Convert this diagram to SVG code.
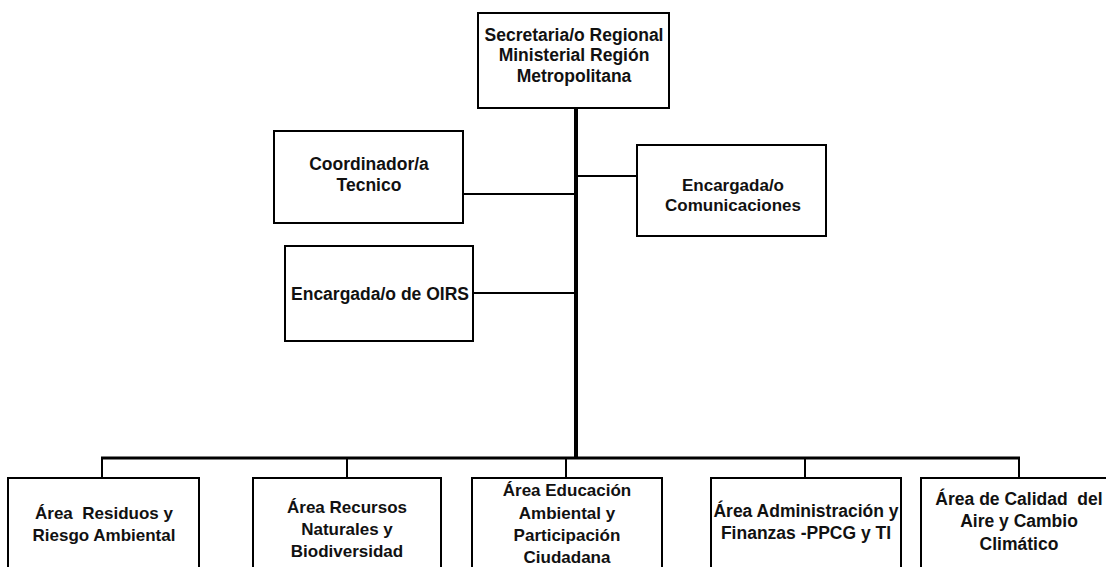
<svg xmlns="http://www.w3.org/2000/svg" width="1106" height="567" viewBox="0 0 1106 567">
<style>
.box{fill:#fff;stroke:#000;stroke-width:2}
.t{font-family:"Liberation Sans",Arial,sans-serif;font-weight:bold;font-size:17px;fill:#111;text-anchor:middle}
.l{font-size:17.5px}
.c{stroke:#000;stroke-width:2;fill:none}
.bus{stroke:#000;stroke-width:3;fill:none}
.trunk{stroke:#000;stroke-width:4;fill:none}
</style>
<rect width="1106" height="567" fill="#fff"/>
<g id="connectors">
<line class="trunk" x1="576" y1="108" x2="576" y2="459"/>
<line class="c" x1="463" y1="194" x2="576" y2="194"/>
<line class="c" x1="576" y1="176" x2="637" y2="176"/>
<line class="c" x1="473" y1="293" x2="576" y2="293"/>
<line class="bus" x1="101" y1="458" x2="1020" y2="458"/>
<line class="c" x1="102" y1="458" x2="102" y2="478"/>
<line class="c" x1="347" y1="458" x2="347" y2="478"/>
<line class="c" x1="566" y1="458" x2="566" y2="478"/>
<line class="c" x1="805" y1="458" x2="805" y2="478"/>
<line class="c" x1="1019" y1="458" x2="1019" y2="478"/>
</g>
<g id="secretaria">
<rect class="box" x="478" y="13" width="191" height="95"/>
<text class="t l" x="574" y="41">Secretaria/o Regional</text>
<text class="t l" x="574" y="61">Ministerial Región</text>
<text class="t l" x="574" y="82">Metropolitana</text>
</g>
<g id="coordinador">
<rect class="box" x="274" y="131" width="189" height="92"/>
<text class="t l" x="369" y="170">Coordinador/a</text>
<text class="t l" x="369" y="191">Tecnico</text>
</g>
<g id="comunicaciones">
<rect class="box" x="637" y="145" width="189" height="91"/>
<text class="t" x="733" y="191">Encargada/o</text>
<text class="t" x="733" y="211">Comunicaciones</text>
</g>
<g id="oirs">
<rect class="box" x="285" y="246" width="188" height="95"/>
<text class="t l" x="380" y="300">Encargada/o de OIRS</text>
</g>
<g id="residuos">
<rect class="box" x="8" y="478" width="191" height="100"/>
<text class="t" x="104" y="519" xml:space="preserve">Área  Residuos y</text>
<text class="t" x="104" y="541">Riesgo Ambiental</text>
</g>
<g id="recursos">
<rect class="box" x="253" y="478" width="188" height="100"/>
<text class="t" x="347" y="513">Área Recursos</text>
<text class="t" x="347" y="535">Naturales y</text>
<text class="t" x="347" y="557">Biodiversidad</text>
</g>
<g id="educacion">
<rect class="box" x="472" y="478" width="190" height="100"/>
<text class="t" x="567" y="496">Área Educación</text>
<text class="t" x="567" y="519">Ambiental y</text>
<text class="t" x="567" y="541">Participación</text>
<text class="t" x="567" y="563">Ciudadana</text>
</g>
<g id="administracion">
<rect class="box" x="711" y="478" width="190" height="100"/>
<text class="t l" x="806" y="517">Área Administración y</text>
<text class="t l" x="806" y="539">Finanzas -PPCG y TI</text>
</g>
<g id="calidad">
<rect class="box" x="921" y="478" width="196" height="100"/>
<text class="t l" x="1019" y="505" xml:space="preserve">Área de Calidad  del</text>
<text class="t l" x="1019" y="527">Aire y Cambio</text>
<text class="t l" x="1019" y="550">Climático</text>
</g>
</svg>
